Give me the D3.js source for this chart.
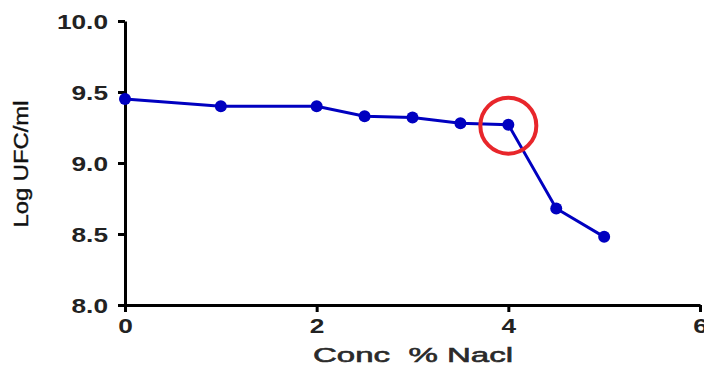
<!DOCTYPE html>
<html>
<head>
<meta charset="utf-8">
<script src="https://cdn.jsdelivr.net/npm/d3@7"></script>
<style>
  body { margin: 0; background: #fff; }
  svg { display: block; font-family: "Liberation Sans", Arial, sans-serif; }
</style>
</head>
<body>
<svg id="chart" width="704" height="367"></svg>
<script>
// concentration of NaCl (%) and Log UFC/ml
var conc = [0, 1, 2, 2.5, 3, 3.5, 4, 4.5, 5];
var logUfc = [9.45, 9.40, 9.40, 9.33, 9.32, 9.28, 9.27, 8.68, 8.48];
var xTicks = [0, 2, 4, 6];
var yTicks = [8.0, 8.5, 9.0, 9.5, 10.0];
var highlightX = 4; // circled point

var svg = d3.select("#chart");

var x = d3.scaleLinear().domain([0, 6]).range([125, 700]);
var y = d3.scaleLinear().domain([8, 10]).range([305, 21]);

// y axis
var yAxis = svg.append("g")
  .attr("transform", "translate(125,0)")
  .call(d3.axisLeft(y).tickValues(yTicks).tickFormat(d3.format(".1f")).tickSize(7).tickSizeOuter(0));

// x axis
var xAxis = svg.append("g")
  .attr("transform", "translate(0,305)")
  .call(d3.axisBottom(x).tickValues(xTicks).tickFormat(d3.format("d")).tickSize(7).tickSizeOuter(0));

[yAxis, xAxis].forEach(function(g) {
  g.attr("font-size", 21);
  g.select(".domain").attr("stroke", "#000").attr("stroke-width", 3);
  g.selectAll(".tick line").attr("stroke", "#000").attr("stroke-width", 3);
  g.selectAll(".tick text")
    .attr("fill", "#222")
    .attr("font-weight", "bold")
    .each(function() {
      // the original glyphs are wider than Arial bold
      var w = this.getComputedTextLength();
      d3.select(this).attr("textLength", w * 1.25).attr("lengthAdjust", "spacingAndGlyphs");
    });
});
yAxis.selectAll(".tick text").attr("x", -17).attr("dy", "0.36em");
xAxis.selectAll(".tick text").attr("y", 13).attr("dy", "0.71em");

// axis titles
svg.append("text")
  .attr("x", 413).attr("y", 362)
  .attr("text-anchor", "middle")
  .attr("textLength", 200)
  .attr("lengthAdjust", "spacingAndGlyphs")
  .attr("font-size", 21)
  .attr("fill", "#2a2a2a")
  .attr("stroke", "#2a2a2a")
  .attr("stroke-width", 0.6)
  .text("Conc\u00a0\u00a0% Nacl");

svg.append("text")
  .attr("transform", "translate(28,164) rotate(-90)")
  .attr("text-anchor", "middle")
  .attr("textLength", 127)
  .attr("lengthAdjust", "spacingAndGlyphs")
  .attr("font-size", 20)
  .attr("fill", "#111")
  .attr("stroke", "#111")
  .attr("stroke-width", 0.4)
  .text("Log UFC/ml");

// series
var pts = conc.map(function(c, i) { return [c, logUfc[i]]; });

svg.append("path")
  .datum(pts)
  .attr("fill", "none")
  .attr("stroke", "#0000c0")
  .attr("stroke-width", 3)
  .attr("d", d3.line().x(function(d) { return x(d[0]); }).y(function(d) { return y(d[1]); }));

svg.selectAll("circle.pt")
  .data(pts)
  .enter().append("circle")
  .attr("class", "pt")
  .attr("cx", function(d) { return x(d[0]); })
  .attr("cy", function(d) { return y(d[1]); })
  .attr("r", 6)
  .attr("fill", "#0000c0");

// red highlight circle
var hi = pts[conc.indexOf(highlightX)];
svg.append("circle")
  .attr("cx", x(hi[0]))
  .attr("cy", y(hi[1]) + 1)
  .attr("r", 28)
  .attr("fill", "none")
  .attr("stroke", "#e8262b")
  .attr("stroke-width", 4);
</script>
</body>
</html>
